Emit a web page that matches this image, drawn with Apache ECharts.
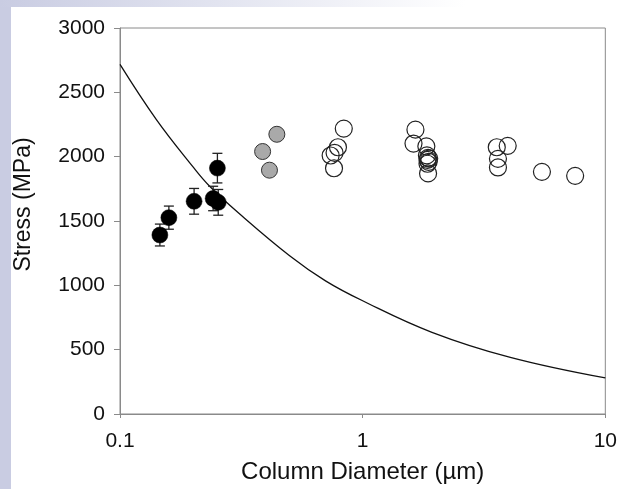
<!DOCTYPE html>
<html>
<head>
<meta charset="utf-8">
<script src="https://cdn.jsdelivr.net/npm/echarts@6/dist/echarts.min.js"></script>
<style>html,body{margin:0;padding:0;background:#fff;}#c{width:620px;height:489px;}</style>
</head>
<body>
<div id="c"></div>
<script>
// x tick labels and y ticks
const xTickLabels = ['0.1', '1', '10'];
const yTicks = [0, 500, 1000, 1500, 2000, 2500, 3000];

// model curve
const curveX = [0.1, 0.141, 0.2, 0.233, 0.309, 0.5, 0.703, 1, 1.93, 4.06, 10];
const curveY = [2717, 2290, 1920, 1774, 1560, 1230, 1035, 880, 635, 440, 280];

// filled black points with error bars
const blackX = [0.146, 0.159, 0.202, 0.242, 0.254, 0.252];
const blackY = [1391, 1526, 1653, 1675, 1645, 1911];
const blackErr = [85, 90, 100, 95, 100, 115];

// grey points
const greyX = [0.387, 0.413, 0.443];
const greyY = [2040, 1895, 2174];
const greyErr = [0, 0, 30];

// open circles
const openX = [0.836, 0.791, 0.766, 0.738, 0.762,
  1.65, 1.62, 1.83, 1.84, 1.86, 1.85, 1.87, 1.85, 1.88, 1.86,
  3.57, 3.96, 3.61, 3.61, 5.48, 7.51];
const openY = [2218, 2073, 2030, 2009, 1910,
  2210, 2102, 2080, 2010, 1990, 1975, 1960, 1945, 1985, 1870,
  2073, 2084, 1983, 1916, 1882, 1851];

const zip = (a, b) => a.map((v, i) => [v, b[i]]);
const zip3 = (a, b, c) => a.map((v, i) => [v, b[i], c[i]]);

const errData = zip3(blackX, blackY, blackErr).concat(zip3(greyX, greyY, greyErr).filter(d => d[2] > 0));

function renderErr(params, api) {
  const x = api.value(0), y = api.value(1), e = api.value(2);
  const top = api.coord([x, y + e]);
  const bot = api.coord([x, y - e]);
  const w = 5;
  const style = {stroke: '#222', lineWidth: 1.3};
  return {
    type: 'group',
    children: [
      {type: 'line', shape: {x1: top[0], y1: top[1], x2: bot[0], y2: bot[1]}, style},
      {type: 'line', shape: {x1: top[0] - w, y1: top[1], x2: top[0] + w, y2: top[1]}, style},
      {type: 'line', shape: {x1: bot[0] - w, y1: bot[1], x2: bot[0] + w, y2: bot[1]}, style}
    ]
  };
}

const chart = echarts.init(document.getElementById('c'), null, {renderer: 'canvas'});
const font = 'Liberation Sans, Arial, Helvetica, sans-serif';
chart.setOption({
  animation: false,
  backgroundColor: '#ffffff',
  graphic: [
    {type: 'rect', left: 0, top: 0, shape: {width: 11, height: 489}, style: {fill: '#c9cce2'}, z: -10},
    {type: 'rect', left: 0, top: 0, shape: {width: 620, height: 7},
      style: {fill: new echarts.graphic.LinearGradient(0, 0, 1, 0, [
        {offset: 0, color: '#c9cce2'}, {offset: 0.35, color: '#e2e4f0'}, {offset: 0.75, color: '#ffffff'}])}, z: -10}
  ],
  grid: {left: 120, right: 10, top: 28, bottom: 73, show: true, borderColor: '#8a8a8a', borderWidth: 1, backgroundColor: 'transparent'},
  xAxis: {
    type: 'log', logBase: 10, min: 0.1, max: 10,
    name: 'Column Diameter (µm)', nameLocation: 'middle', nameGap: 46,
    nameTextStyle: {fontFamily: font, fontSize: 24, color: '#111'},
    axisLine: {lineStyle: {color: '#8a8a8a', width: 1}},
    axisTick: {show: true, length: 4, lineStyle: {color: '#8a8a8a'}},
    minorTick: {show: false},
    splitLine: {show: false},
    axisLabel: {
      fontFamily: font, fontSize: 21, color: '#111', margin: 17,
      formatter: v => xTickLabels[Math.round(Math.log10(v)) + 1]
    }
  },
  yAxis: {
    type: 'value', min: yTicks[0], max: yTicks[yTicks.length - 1], interval: 500,
    name: 'Stress (MPa)', nameLocation: 'middle', nameGap: 85, nameRotate: 90,
    nameTextStyle: {fontFamily: font, fontSize: 23, color: '#111', padding: [0, 0, 0, 33]},
    axisLine: {show: true, lineStyle: {color: '#8a8a8a', width: 1}},
    axisTick: {show: true, length: 6, lineStyle: {color: '#8a8a8a'}},
    splitLine: {show: false},
    axisLabel: {fontFamily: font, fontSize: 21, color: '#111', margin: 15, padding: [4, 0, 0, 0], formatter: v => String(v)}
  },
  series: [
    {type: 'line', data: zip(curveX, curveY), smooth: 0.4, showSymbol: false, symbol: 'none',
      lineStyle: {color: '#111', width: 1.3}, z: 1},
    {type: 'custom', renderItem: renderErr, data: errData, encode: {x: 0, y: 1}, z: 2},
    {type: 'scatter', data: zip(blackX, blackY), symbol: 'circle', symbolSize: 16,
      itemStyle: {color: '#000', borderColor: '#000', borderWidth: 0.5, opacity: 1}, z: 3},
    {type: 'scatter', data: zip(greyX, greyY), symbol: 'circle', symbolSize: 16,
      itemStyle: {color: '#a9a9a9', borderColor: '#333', borderWidth: 1, opacity: 1}, z: 3},
    {type: 'scatter', data: zip(openX, openY), symbol: 'circle', symbolSize: 17,
      itemStyle: {color: 'rgba(255,255,255,0)', borderColor: '#222', borderWidth: 1.2, opacity: 1}, z: 3}
  ]
});
</script>
</body>
</html>
